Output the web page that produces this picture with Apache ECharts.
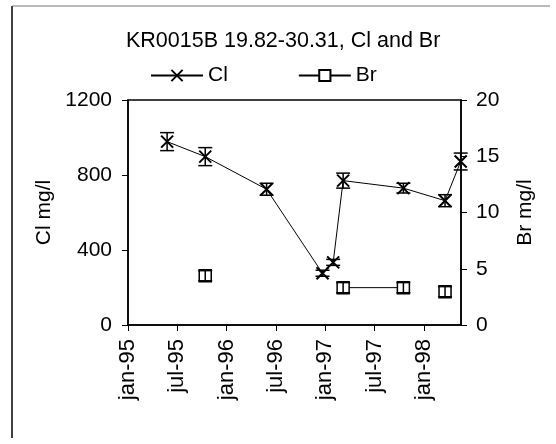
<!DOCTYPE html>
<html>
<head>
<meta charset="utf-8">
<script src="https://cdn.jsdelivr.net/npm/echarts@6/dist/echarts.min.js"></script>
<style>
html, body { margin: 0; padding: 0; background: #fff; }
#chart { width: 556px; height: 444px; }
</style>
</head>
<body>
<div id="chart"></div>
<script>
// sampling dates and values
var clDates = ['1995-05-24', '1995-10-13', '1996-05-27', '1996-12-21', '1997-01-30', '1997-03-06', '1997-10-16', '1998-03-18', '1998-05-15'];
var clValues = [978, 898, 724, 276, 334, 770, 730, 663, 872];
var clErrors = [48, 48, 32, 16, 16, 40, 26, 32, 45];

var brDates = ['1995-10-13', '1996-06-01', '1997-03-06', '1997-10-16', '1998-01-01', '1998-03-18'];
var brValues = [4.38, null, 3.32, 3.32, null, 2.96];
var brErrors = [0.45, null, 0.45, 0.45, null, 0.45];

var xTickLabels = ['jan-95', 'jul-95', 'jan-96', 'jul-96', 'jan-97', 'jul-97', 'jan-98'];

var FONT = 'Liberation Sans, Arial, sans-serif';

// months since jan-95
function toMonth(s) {
	var p = s.split('-');
	return (+p[0] - 1995) * 12 + (+p[1] - 1) + (+p[2] - 1) / 30.4;
}

function pairs(dates, vals) {
	return dates.map(function (d, i) {
		return [toMonth(d), vals[i] == null ? '-' : vals[i]];
	});
}

function errData(dates, vals, errs) {
	var out = [];
	dates.forEach(function (d, i) {
		if (vals[i] != null) out.push([toMonth(d), vals[i], errs[i]]);
	});
	return out;
}

function errorBar(params, api) {
	var x = api.value(0), y = api.value(1), e = api.value(2);
	var top = api.coord([x, y + e]);
	var bot = api.coord([x, y - e]);
	var w = 7;
	var st = { stroke: '#000', lineWidth: 1.5 };
	return {
		type: 'group',
		children: [
			{ type: 'line', shape: { x1: top[0], y1: top[1], x2: bot[0], y2: bot[1] }, style: st },
			{ type: 'line', shape: { x1: top[0] - w, y1: top[1], x2: top[0] + w, y2: top[1] }, style: st },
			{ type: 'line', shape: { x1: bot[0] - w, y1: bot[1], x2: bot[0] + w, y2: bot[1] }, style: st }
		]
	};
}

var myChart = echarts.init(document.getElementById('chart'));
var option = {
	animation: false,
	backgroundColor: '#fff',
	textStyle: { fontFamily: FONT, color: '#000' },
	title: {
		text: 'KR0015B 19.82-30.31, Cl and Br',
		left: 121,
		top: 25,
		textStyle: { fontFamily: FONT, fontSize: 21.5, fontWeight: 'normal', color: '#000' }
	},
	legend: {
		data: ['Cl', 'Br'],
		left: 145,
		top: 60,
		itemWidth: 52,
		itemHeight: 14,
		itemGap: 70,
		textStyle: { fontFamily: FONT, fontSize: 21, color: '#000' }
	},
	graphic: [
		{ type: 'line', shape: { x1: 12, y1: 6, x2: 12, y2: 438 }, style: { stroke: '#000', lineWidth: 1.5 } },
		{ type: 'line', shape: { x1: 12, y1: 6, x2: 550, y2: 6 }, style: { stroke: '#777', lineWidth: 1 } }
	],
	grid: {
		left: 128, right: 95, top: 100, bottom: 119,
		show: true, borderColor: '#000', borderWidth: 1.5
	},
	xAxis: {
		type: 'value',
		min: 0,
		max: 40.5,
		interval: 6,
		splitLine: { show: false },
		axisLine: { lineStyle: { color: '#000', width: 1.5 } },
		axisTick: { length: 6, lineStyle: { color: '#000' } },
		axisLabel: {
			rotate: 90,
			margin: 14,
			fontSize: 22,
			fontFamily: FONT,
			color: '#000',
			showMaxLabel: false,
			formatter: function (v) {
				var i = Math.round(v / 6);
				return Math.abs(v - i * 6) < 1e-6 && xTickLabels[i] ? xTickLabels[i] : '';
			}
		}
	},
	yAxis: [{
		type: 'value',
		name: 'Cl mg/l',
		nameLocation: 'middle',
		nameRotate: 90,
		nameGap: 60,
		nameTextStyle: { fontFamily: FONT, fontSize: 21, color: '#000' },
		min: 0, max: 1200, interval: 400,
		splitLine: { show: false },
		axisLine: { show: true, lineStyle: { color: '#000', width: 1.5 } },
		axisTick: { show: true, length: 6, lineStyle: { color: '#000' } },
		axisLabel: { margin: 16, fontSize: 21, fontFamily: FONT, color: '#000', formatter: function (v) { return String(v); } }
	}, {
		type: 'value',
		name: 'Br mg/l',
		nameLocation: 'middle',
		nameRotate: 90,
		nameGap: 54,
		nameTextStyle: { fontFamily: FONT, fontSize: 21, color: '#000' },
		min: 0, max: 20, interval: 5,
		splitLine: { show: false },
		axisLine: { show: true, lineStyle: { color: '#000', width: 1.5 } },
		axisTick: { show: true, length: 6, lineStyle: { color: '#000' } },
		axisLabel: { margin: 15, fontSize: 21, fontFamily: FONT, color: '#000' }
	}],
	series: [{
		name: 'Cl',
		type: 'line',
		yAxisIndex: 0,
		data: pairs(clDates, clValues),
		symbol: 'path://M0,0L10,10M10,0L0,10',
		symbolSize: 12,
		lineStyle: { color: '#000', width: 1 },
		itemStyle: { color: 'none', borderColor: '#000', borderWidth: 2 },
		z: 3
	}, {
		name: 'Br',
		type: 'line',
		yAxisIndex: 1,
		data: pairs(brDates, brValues),
		connectNulls: false,
		symbol: 'rect',
		symbolSize: 12,
		lineStyle: { color: '#000', width: 1 },
		itemStyle: { color: '#fff', borderColor: '#000', borderWidth: 1.5 },
		z: 3
	}, {
		name: 'Cl err',
		type: 'custom',
		yAxisIndex: 0,
		renderItem: errorBar,
		data: errData(clDates, clValues, clErrors),
		z: 4
	}, {
		name: 'Br err',
		type: 'custom',
		yAxisIndex: 1,
		renderItem: errorBar,
		data: errData(brDates, brValues, brErrors),
		z: 4
	}]
};
myChart.setOption(option);
</script>
</body>
</html>
